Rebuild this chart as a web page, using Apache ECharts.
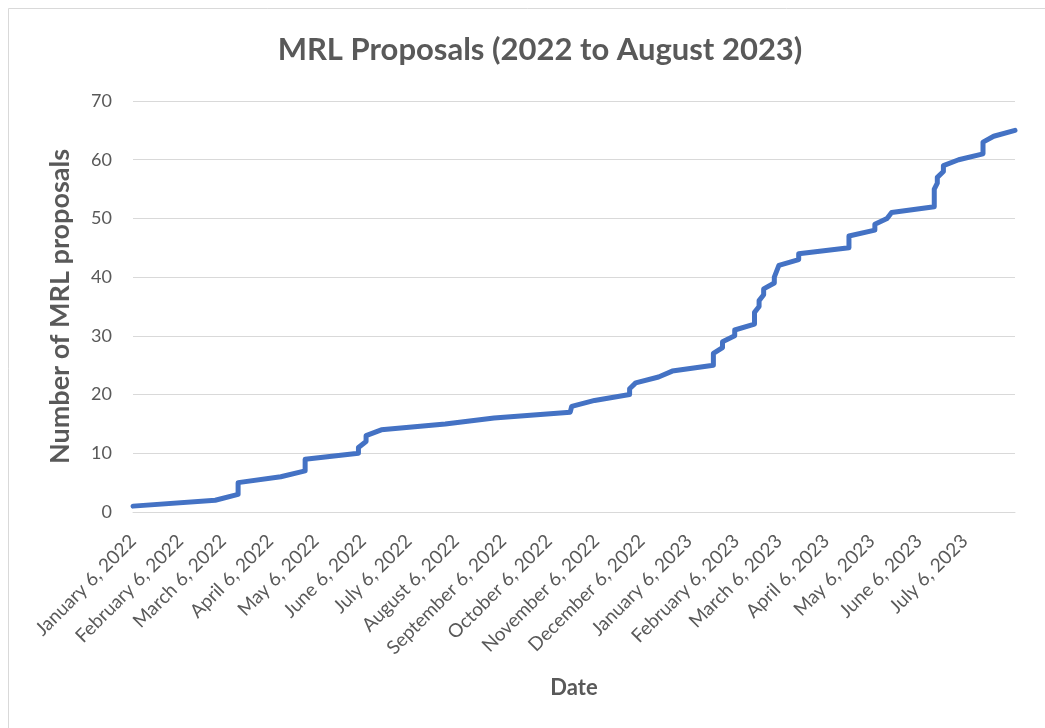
<!DOCTYPE html>
<html>
<head>
<meta charset="utf-8">
<script src="https://cdn.jsdelivr.net/npm/echarts@6/dist/echarts.min.js"></script>
<style>
  html, body { margin: 0; padding: 0; background: #fff; }
  #chart { width: 1045px; height: 728px; }
</style>
</head>
<body>
<div id="chart"></div>
<script>
// Dates of each vertex of the cumulative line
const dates = [
  '2022-01-06', '2022-03-01', '2022-03-16', '2022-03-16', '2022-04-13', '2022-04-29', '2022-04-29',
  '2022-06-03', '2022-06-03', '2022-06-08', '2022-06-08', '2022-06-18', '2022-07-30', '2022-08-31',
  '2022-10-20', '2022-10-21', '2022-11-05', '2022-11-28', '2022-11-28', '2022-12-02', '2022-12-17',
  '2022-12-26', '2023-01-22', '2023-01-22', '2023-01-28', '2023-01-28', '2023-02-05', '2023-02-05',
  '2023-02-18', '2023-02-18', '2023-02-21', '2023-02-21', '2023-02-24', '2023-02-24', '2023-03-03',
  '2023-03-03', '2023-03-06', '2023-03-19', '2023-03-19', '2023-04-21', '2023-04-21', '2023-05-08',
  '2023-05-08', '2023-05-16', '2023-05-19', '2023-06-16', '2023-06-16', '2023-06-18', '2023-06-18',
  '2023-06-22', '2023-06-22', '2023-07-02', '2023-07-18', '2023-07-18', '2023-07-25', '2023-08-08'
];
// Cumulative number of MRL proposals at each vertex
const counts = [
  1, 2, 3, 5, 6, 7, 9,
  10, 11, 12, 13, 14, 15, 16,
  17, 18, 19, 20, 21, 22, 23,
  24, 25, 27, 28, 29, 30, 31,
  32, 34, 35, 36, 37, 38, 39,
  40, 42, 43, 44, 45, 47, 48,
  49, 50, 51, 52, 55, 56, 57,
  58, 59, 60, 61, 63, 64, 65
];
// Tick labels on the date axis
const tickDates = [
  '2022-01-06', '2022-02-06', '2022-03-06', '2022-04-06', '2022-05-06', '2022-06-06',
  '2022-07-06', '2022-08-06', '2022-09-06', '2022-10-06', '2022-11-06', '2022-12-06',
  '2023-01-06', '2023-02-06', '2023-03-06', '2023-04-06', '2023-05-06', '2023-06-06',
  '2023-07-06'
];
const monthNames = ['January','February','March','April','May','June','July','August','September','October','November','December'];
const axisMin = '2022-01-06';
const axisMax = '2023-08-08';

function parseLocal(s) {
  const p = s.split('-').map(Number);
  return new Date(p[0], p[1] - 1, p[2]).getTime();
}

const seriesData = dates.map((d, i) => [parseLocal(d), counts[i]]);
const tickValues = tickDates.map(parseLocal);

const chart = echarts.init(document.getElementById('chart'));
const gray = '#595959';
chart.setOption({
  animation: false,
  backgroundColor: '#fff',
  textStyle: { fontFamily: 'Lato' },
  graphic: [{
    type: 'rect',
    shape: { x: 8.5, y: 8.5, width: 1100, height: 800 },
    style: { fill: 'none', stroke: '#d9d9d9', lineWidth: 1 },
    silent: true
  }],
  title: {
    text: 'MRL Proposals (2022 to August 2023)',
    left: 535,
    top: 29,
    textAlign: 'center',
    textStyle: { fontFamily: 'Lato', fontSize: 31, fontWeight: 'bold', color: gray }
  },
  grid: { left: 133, right: 30, top: 101, bottom: 216, containLabel: false },
  xAxis: {
    type: 'value',
    min: parseLocal(axisMin),
    max: parseLocal(axisMax),
    name: 'Date',
    nameLocation: 'middle',
    nameGap: 165,
    nameTextStyle: { fontFamily: 'Lato', fontSize: 22, fontWeight: 'bold', color: gray },
    axisLine: { show: true, lineStyle: { color: '#d9d9d9', width: 1 } },
    axisTick: { show: false },
    splitLine: { show: false },
    axisLabel: {
      customValues: tickValues,
      rotate: 45,
      margin: 26,
      fontFamily: 'Lato',
      fontSize: 19,
      color: gray,
      showMinLabel: true,
      showMaxLabel: true,
      hideOverlap: false,
      formatter: function (val) {
        const d = new Date(val);
        return monthNames[d.getMonth()] + ' ' + d.getDate() + ', ' + d.getFullYear();
      }
    }
  },
  yAxis: {
    type: 'value',
    min: 0,
    max: 70,
    interval: 10,
    name: 'Number of MRL proposals',
    nameLocation: 'middle',
    nameGap: 59,
    nameRotate: 90,
    nameTextStyle: { fontFamily: 'Lato', fontSize: 27, fontWeight: 'bold', color: gray },
    axisLine: { show: false },
    axisTick: { show: false },
    splitLine: { lineStyle: { color: '#d9d9d9', width: 1 } },
    axisLabel: { fontFamily: 'Lato', fontSize: 18, color: gray, margin: 21 }
  },
  series: [{
    type: 'line',
    data: seriesData,
    showSymbol: false,
    lineStyle: { color: '#4472C4', width: 5, join: 'round', cap: 'round' },
    smooth: false
  }]
});
</script>
</body>
</html>
